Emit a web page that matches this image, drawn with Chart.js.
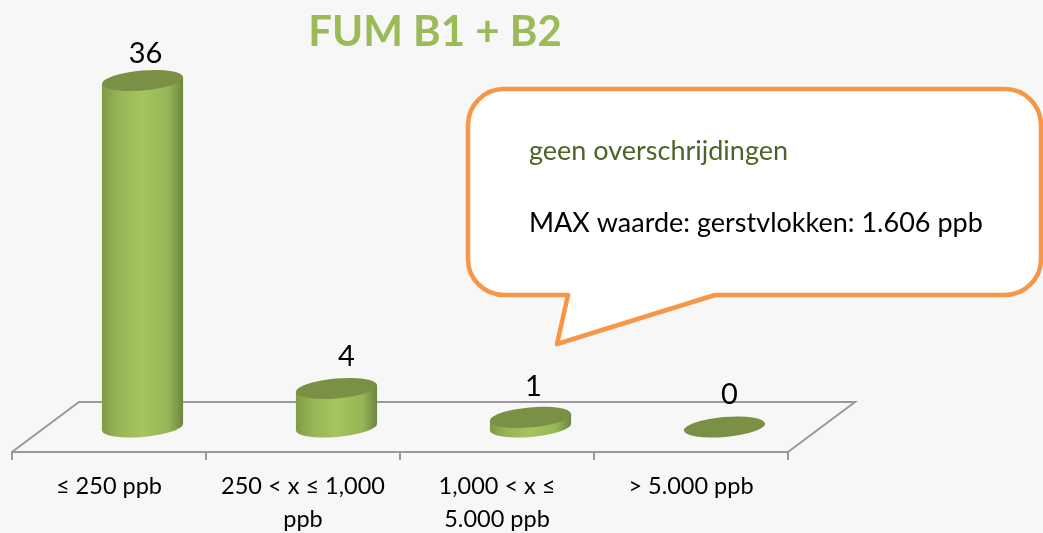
<!DOCTYPE html>
<html>
<head>
<meta charset="utf-8">
<title>FUM B1 + B2</title>
<script src="https://cdn.jsdelivr.net/npm/chart.js@4"></script>
<style>
    html, body { margin: 0; padding: 0; background: #f7f7f7; }
    canvas { display: block; }
</style>
</head>
<body>
<canvas id="chart-fum" width="1043" height="533"></canvas>
<script>
// Data
const categories = [['≤ 250 ppb'], ['250 < x ≤ 1,000', 'ppb'], ['1,000 < x ≤', '5.000 ppb'], ['> 5.000 ppb']];
const sampleCounts = [36, 4, 1, 0];
const titleText = 'FUM B1 + B2';
const calloutLine1 = 'geen overschrijdingen';
const calloutLine2 = 'MAX waarde: gerstvlokken: 1.606 ppb';

const FONT = 'Lato, "Noto Sans", sans-serif';
const GREY = '#999999';
// depth of the fake 3D floor
const depthX = 67;
const depthY = 50;
const tilt = -5 * Math.PI / 180;
// small nudges for the value labels
const labelNudgeX = [3, 10, 3, 5];
const labelNudgeY = [-27, -32, -31, -32];

// floor behind the bars
const floorPlugin = {
    id: 'floor',
    afterLayout(chart) {
        // title sits left of the canvas centre
        chart.titleBlock.left = 0;
        chart.titleBlock.right = 870;
    },
    beforeDatasetsDraw(chart) {
        const {ctx, chartArea: {left, right, bottom}} = chart;
        ctx.save();
        ctx.strokeStyle = GREY;
        ctx.lineWidth = 2;
        ctx.beginPath();
        ctx.moveTo(left, bottom);
        ctx.lineTo(left + depthX, bottom - depthY);
        ctx.lineTo(right + depthX, bottom - depthY);
        ctx.lineTo(right, bottom);
        ctx.stroke();
        ctx.restore();
    }
};

// cylinders, value labels and the speech bubble
const cylinderPlugin = {
    id: 'cylinders',
    afterDatasetsDraw(chart) {
        const {ctx} = chart;
        const bars = chart.getDatasetMeta(0).data;
        bars.forEach((bar, i) => {
            const cx = bar.x + depthX / 2;
            const a = bar.width / 2;
            const b = 10;
            const dx = a * Math.cos(tilt);
            const dy = a * Math.sin(tilt);

            ctx.save();
            if (bar.base - bar.y > 0) {
                const grad = ctx.createLinearGradient(cx - a, 0, cx + a, 0);
                grad.addColorStop(0, '#7f9b45');
                grad.addColorStop(0.2, '#96b556');
                grad.addColorStop(0.5, '#a4c55f');
                grad.addColorStop(0.82, '#96b556');
                grad.addColorStop(1, '#6b8540');
                ctx.fillStyle = grad;
                ctx.beginPath();
                ctx.ellipse(cx, bar.base, a, b, tilt, 0, Math.PI);
                ctx.lineTo(cx - dx, bar.y - dy);
                ctx.lineTo(cx + dx, bar.y + dy);
                ctx.closePath();
                ctx.fill();
            }
            ctx.fillStyle = '#7a9045';
            ctx.beginPath();
            ctx.ellipse(cx, bar.y, a, b, tilt, 0, Math.PI * 2);
            ctx.fill();

            ctx.fillStyle = '#000';
            ctx.font = '29px ' + FONT;
            ctx.textAlign = 'center';
            ctx.textBaseline = 'middle';
            ctx.fillText(String(sampleCounts[i]), cx + labelNudgeX[i], bar.y + labelNudgeY[i]);
            ctx.restore();
        });
        drawCallout(ctx);
    }
};

function drawCallout(ctx) {
    const l = 468, t = 89, r = 1041, b = 295, rad = 36;
    ctx.save();
    ctx.fillStyle = '#fff';
    ctx.strokeStyle = '#f79646';
    ctx.lineWidth = 4.5;
    ctx.lineJoin = 'round';
    ctx.beginPath();
    ctx.moveTo(l + rad, t);
    ctx.lineTo(r - rad, t);
    ctx.arcTo(r, t, r, t + rad, rad);
    ctx.lineTo(r, b - rad);
    ctx.arcTo(r, b, r - rad, b, rad);
    ctx.lineTo(715, b);
    ctx.lineTo(557, 344);
    ctx.lineTo(568, b);
    ctx.lineTo(l + rad, b);
    ctx.arcTo(l, b, l, b - rad, rad);
    ctx.lineTo(l, t + rad);
    ctx.arcTo(l, t, l + rad, t, rad);
    ctx.closePath();
    ctx.fill();
    ctx.stroke();

    ctx.font = '27px ' + FONT;
    ctx.textAlign = 'left';
    ctx.textBaseline = 'middle';
    ctx.fillStyle = '#4f6228';
    ctx.fillText(calloutLine1, 529, 151);
    ctx.fillStyle = '#000';
    ctx.fillText(calloutLine2, 529, 223);
    ctx.restore();
}

new Chart(document.getElementById('chart-fum'), {
    type: 'bar',
    data: {
        labels: categories,
        datasets: [{
            data: sampleCounts,
            backgroundColor: 'rgba(0,0,0,0)',
            barPercentage: 0.42,
            categoryPercentage: 1
        }]
    },
    options: {
        responsive: false,
        animation: false,
        layout: {padding: {left: 12, right: 255, top: 0, bottom: 0}},
        plugins: {
            legend: {display: false},
            tooltip: {enabled: false},
            title: {
                display: true,
                text: titleText,
                color: '#9bbb59',
                font: {family: FONT, size: 42, weight: 'bold', lineHeight: 1},
                padding: {top: 11, bottom: 7}
            }
        },
        scales: {
            x: {
                afterFit(scale) { scale.height = 81; },
                border: {color: GREY, width: 2},
                grid: {drawOnChartArea: false, color: GREY, lineWidth: 2, tickLength: 8},
                ticks: {
                    color: '#000',
                    font: {family: FONT, size: 23.5, lineHeight: 1.4},
                    maxRotation: 0,
                    padding: 10
                }
            },
            y: {
                display: false,
                min: -2.597,
                max: 38.13
            }
        }
    },
    plugins: [floorPlugin, cylinderPlugin]
});
</script>
</body>
</html>
